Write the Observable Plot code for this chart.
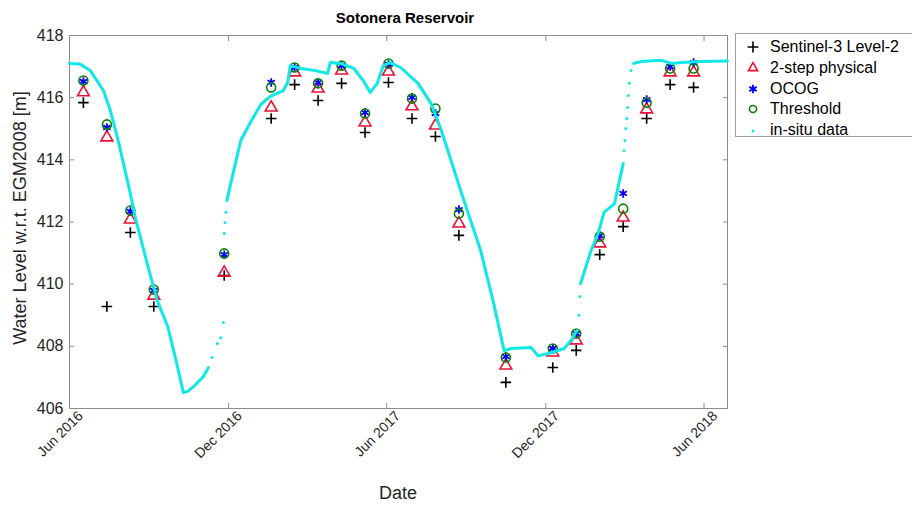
<!DOCTYPE html>
<html>
<head>
<meta charset="utf-8">
<script src="https://cdn.jsdelivr.net/npm/d3@7"></script>
<script src="https://cdn.jsdelivr.net/npm/@observablehq/plot@0.6"></script>
<style>
  body { margin: 0; background: #fff; }
  #wrap { position: relative; width: 912px; height: 506px; overflow: hidden; font-family: "Liberation Sans", Arial, sans-serif; color: #262626; }
  #wrap svg.plot { position: absolute; left: 0; top: 0; }
  .title { position: absolute; left: 69px; width: 672px; top: 9px; text-align: center; font-weight: bold; font-size: 15px; color: #000; }
  .ylab { position: absolute; left: 20px; top: 218px; transform: translate(-50%, -50%) rotate(-90deg); white-space: nowrap; font-size: 18px; }
  .xlab { position: absolute; left: 398px; top: 493px; transform: translate(-50%, -50%); font-size: 18px; }
  .legend { position: absolute; left: 735px; top: 33px; width: 185px; height: 104px; border: 1px solid #a0a0a0; background: #fff; box-sizing: border-box; }
  .legend .row { position: absolute; left: 0; height: 20px; display: flex; align-items: center; font-size: 16px; color: #000; white-space: nowrap; }
  .legend .row svg { width: 34px; height: 20px; }
</style>
</head>
<body>
<div id="wrap"></div>
<script>
// ---- Sentinel-3 pass dates (27-day repeat) ----
const passDates = [
  "2016-06-17","2016-07-14","2016-08-10","2016-09-06","2016-11-26",
  "2017-01-19","2017-02-15","2017-03-14","2017-04-10","2017-05-07",
  "2017-06-03","2017-06-30","2017-07-27","2017-08-23","2017-10-16",
  "2017-12-09","2018-01-05","2018-02-01","2018-02-28","2018-03-27",
  "2018-04-23","2018-05-20"
];
const s3Level2 = [
  415.84, 409.28, 411.66, 409.28, 410.28,
  415.33, 416.42, 415.91, 416.46, 414.88,
  416.49, 415.33, 414.75, 411.57, 406.84,
  407.32, 407.87, 410.95, 411.85, 415.33,
  416.42, 416.33
];
const twoStepPhysical = [
  416.17, 414.72, 412.08, 409.63, 410.37,
  415.68, 416.81, 416.29, 416.87, 415.20,
  416.84, 415.72, 415.10, 411.95, 407.38,
  407.80, 408.19, 411.31, 412.14, 415.62,
  416.81, 416.81
];
const ocog = [
  416.52, 415.04, 412.34, 409.80, 410.95,
  416.49, 416.97, 416.49, 417.03, 415.52,
  417.07, 416.01, 415.49, 412.40, 407.67,
  407.93, 408.41, 411.56, 412.92, 415.94,
  417.00, 417.13
];
const threshold = [
  416.55, 415.14, 412.37, 409.83, 410.99,
  416.33, 416.97, 416.46, 417.03, 415.49,
  417.10, 415.97, 415.65, 412.27, 407.64,
  407.93, 408.41, 411.53, 412.43, 415.84,
  416.94, 416.94
];

// ---- in-situ gauge (dense part, null = gap) ----
const insituDates = [
  "2016-06-01","2016-06-13","2016-06-25","2016-07-10","2016-07-18","2016-07-27",
  "2016-08-08","2016-08-16","2016-08-30","2016-09-10","2016-09-22","2016-10-01",
  "2016-10-10","2016-10-15","2016-10-22","2016-11-02","2016-11-08",
  "2016-11-20",
  "2016-11-29","2016-12-07","2016-12-15","2016-12-26","2017-01-07","2017-01-18",
  "2017-02-02","2017-02-07","2017-02-10","2017-02-22","2017-03-11","2017-03-25",
  "2017-03-28","2017-04-09","2017-04-24","2017-05-05","2017-05-13","2017-05-21",
  "2017-05-28","2017-06-05","2017-06-17","2017-07-07","2017-07-22","2017-08-02",
  "2017-08-14","2017-08-25","2017-09-17","2017-10-02","2017-10-14","2017-10-22",
  "2017-11-14","2017-11-22","2017-12-04","2017-12-22","2017-12-30","2018-01-06",
  "2018-01-08",
  "2018-01-10","2018-01-22","2018-01-30","2018-02-06","2018-02-18","2018-02-28",
  "2018-03-01",
  "2018-03-12","2018-03-20","2018-04-13","2018-04-25","2018-05-06","2018-05-29",
  "2018-06-28"
];
const insituLevels = [
  417.10, 417.08, 416.87, 416.23, 415.59, 414.62,
  413.17, 412.11, 410.60, 409.47, 408.64, 407.61,
  406.51, 406.55, 406.71, 407.03, 407.32,
  null,
  412.69, 413.66, 414.62, 415.20, 415.78, 416.04,
  416.23, 416.49, 417.03, 416.94, 416.87, 416.78,
  417.13, 417.10, 416.94, 416.55, 416.17, 416.46,
  417.03, 417.13, 416.97, 416.46, 415.81, 415.01,
  413.98, 413.01, 411.08, 409.38, 407.86, 407.93,
  407.96, 407.70, 407.77, 407.93, 408.19, 408.51,
  null,
  410.02, 411.08, 411.63, 412.31, 412.59, 413.88,
  null,
  417.10, 417.16, 417.20, 417.10, 417.13, 417.16,
  417.18
];
// ---- in-situ gauge (sparse samples inside the gaps) ----
const insituSparseDates = [
  "2016-11-12","2016-11-18","2016-11-22","2016-11-25","2016-11-26","2016-11-27","2016-11-28",
  "2018-01-08","2018-01-09",
  "2018-03-01","2018-03-02","2018-03-03","2018-03-04","2018-03-05","2018-03-06","2018-03-07","2018-03-09"
];
const insituSparseLevels = [
  407.64, 408.09, 408.28, 408.77, 411.63, 411.98, 412.31,
  409.00, 409.60,
  414.30, 414.62, 415.01, 415.33, 415.68, 416.07, 416.46, 416.87
];

// ---- axes ----
const xTickDates = ["2016-06-01","2016-12-01","2017-06-01","2017-12-01","2018-06-01"];
const yTickValues = [406, 408, 410, 412, 414, 416, 418];
const xDomain = ["2016-06-01","2018-06-28"];
const yDomain = [406, 418];

// ---- text ----
const titleText = "Sotonera Reservoir";
const xLabelText = "Date";
const yLabelText = "Water Level w.r.t. EGM2008 [m]";
const legendLabels = ["Sentinel-3 Level-2","2-step physical","OCOG","Threshold","in-situ data"];

// ---- styles ----
const COL = { s3: "#000000", phys: "#ee1133", ocog: "#0000ff", thr: "#0a800a", insitu: "#10e8e8" };
const axisCol = "#8c8c8c";

const parse = d3.utcParse("%Y-%m-%d");
const sat = passDates.map((d, i) => ({
  date: parse(d), s3: s3Level2[i], phys: twoStepPhysical[i], ocog: ocog[i], thr: threshold[i]
}));
const insitu = insituDates.map((d, i) => ({ date: parse(d), v: insituLevels[i] }));
const insituSparse = insituSparseDates.map((d, i) => ({ date: parse(d), v: insituSparseLevels[i] }));
const xTicks = xTickDates.map(parse);

const chart = Plot.plot({
  width: 912,
  height: 506,
  marginLeft: 69,
  marginRight: 185,
  marginTop: 35,
  marginBottom: 98,
  x: { type: "utc", domain: xDomain.map(parse) },
  y: { domain: yDomain },
  style: { fontFamily: "'Liberation Sans', Arial, sans-serif", fontSize: "16px", color: "#262626", background: "transparent" },
  marks: [
    Plot.frame({ stroke: axisCol }),
    Plot.axisY({ ticks: yTickValues, tickSize: -5, tickPadding: 11, label: null, stroke: axisCol }),
    Plot.axisY({ anchor: "right", ticks: yTickValues, tickSize: -5, tickFormat: () => "", label: null, stroke: axisCol }),
    Plot.axisX({ ticks: xTicks, tickSize: -5, tickFormat: () => "", label: null, stroke: axisCol }),
    Plot.axisX({ ticks: xTicks, tickSize: 0, tickPadding: 5, dx: 11, tickRotate: -45, fontSize: 14, tickFormat: d3.utcFormat("%b %Y"), label: null }),
    Plot.axisX({ anchor: "top", ticks: xTicks, tickSize: -5, tickFormat: () => "", label: null, stroke: axisCol }),
    Plot.dot(sat, { x: "date", y: "s3", symbol: "plus", r: 3.5, stroke: COL.s3, strokeWidth: 1.6 }),
    Plot.dot(sat, { x: "date", y: "phys", symbol: "triangle", r: 4.4, stroke: COL.phys, strokeWidth: 1.6 }),
    Plot.dot(sat, { x: "date", y: "ocog", symbol: "asterisk", r: 4, stroke: COL.ocog, strokeWidth: 1.8 }),
    Plot.dot(sat, { x: "date", y: "thr", symbol: "circle", r: 4.5, stroke: COL.thr, strokeWidth: 1.6 }),
    Plot.line(insitu, { x: "date", y: "v", stroke: COL.insitu, strokeWidth: 3 }),
    Plot.dot(insituSparse, { x: "date", y: "v", r: 1.5, fill: COL.insitu })
  ]
});

const wrap = document.getElementById("wrap");
wrap.appendChild(chart);

function addDiv(cls, text) {
  const d = document.createElement("div");
  d.className = cls;
  d.textContent = text;
  wrap.appendChild(d);
  return d;
}
addDiv("title", titleText);
addDiv("ylab", yLabelText);
addDiv("xlab", xLabelText);

// legend
const legend = document.createElement("div");
legend.className = "legend";
wrap.appendChild(legend);
const legendSymbols = [
  { sym: d3.symbolPlus, size: 40, stroke: COL.s3, sw: 1.6 },
  { sym: d3.symbolTriangle2, size: 60, stroke: COL.phys, sw: 1.6 },
  { sym: d3.symbolAsterisk, size: 50, stroke: COL.ocog, sw: 1.8 },
  { sym: d3.symbolCircle, size: 40, stroke: COL.thr, sw: 1.6 },
  { dot: true, fill: COL.insitu }
];
legendLabels.forEach((lab, i) => {
  const row = document.createElement("div");
  row.className = "row";
  row.style.top = (3 + i * 20.8) + "px";
  const s = legendSymbols[i];
  let inner;
  if (s.dot) {
    inner = `<circle cx="17" cy="11" r="1.5" fill="${s.fill}"/>`;
  } else {
    inner = `<path transform="translate(17,10)" d="${d3.symbol(s.sym, s.size)()}" fill="none" stroke="${s.stroke}" stroke-width="${s.sw}"/>`;
  }
  row.innerHTML = `<svg viewBox="0 0 34 20">${inner}</svg><span></span>`;
  row.querySelector("span").textContent = lab;
  legend.appendChild(row);
});
</script>
</body>
</html>
